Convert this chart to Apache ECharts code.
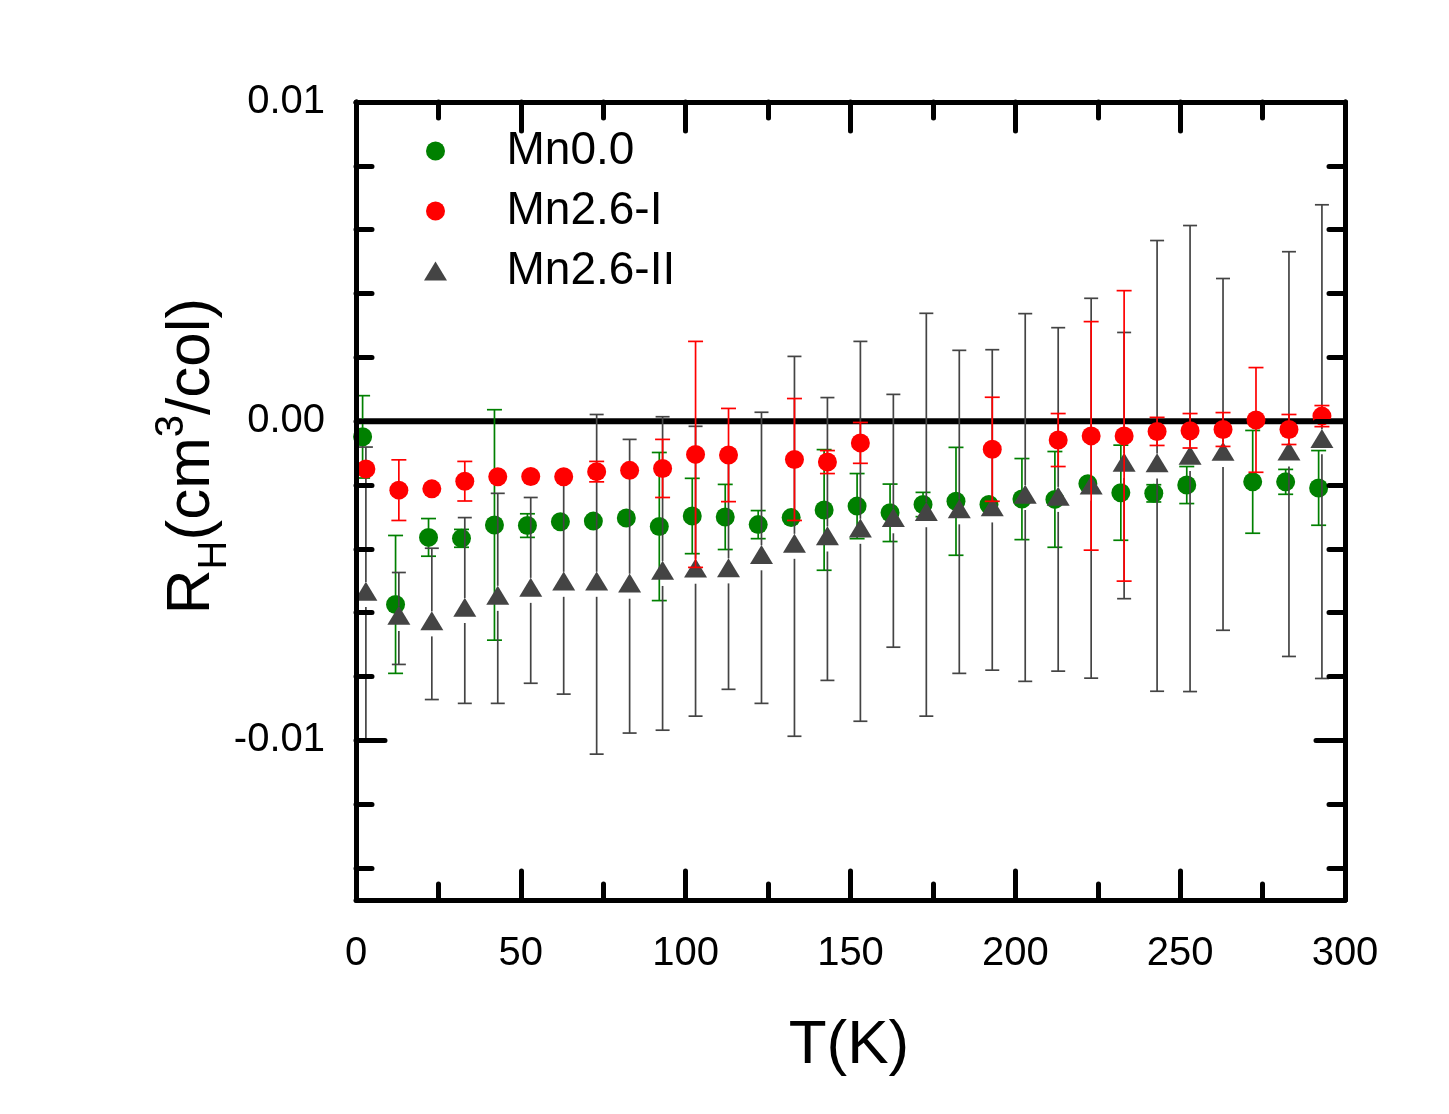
<!DOCTYPE html>
<html>
<head>
<meta charset="utf-8">
<script src="https://cdn.jsdelivr.net/npm/echarts/dist/echarts.min.js"></script>
<style>
html,body{margin:0;padding:0;background:#ffffff;}
#chart{width:1449px;height:1114px;}
</style>
</head>
<body>
<div id="chart"></div>
<script>
// ---- DATA (R_H values and errors in units of 1e-3 cm^3/C) ----
const tMn00 = [2,12,22,32,42,52,62,72,82,92,102,112,122,132,142,152,162,172,182,192,202,212,222,232,242,252,262,272,282,292];
const rhMn00 = [-0.49,-5.74,-3.64,-3.67,-3.25,-3.27,-3.15,-3.13,-3.03,-3.30,-2.97,-3.00,-3.24,-3.02,-2.78,-2.66,-2.87,-2.61,-2.51,-2.61,-2.44,-2.45,-1.96,-2.24,-2.26,-2.00,null,-1.90,-1.90,-2.09];
const errMn00 = [1.29,2.16,0.59,0.28,3.61,0.37,0,0,0,2.32,1.18,1.02,0.44,0,1.89,1.02,0.90,0.38,1.69,0.15,1.27,1.50,0.10,1.49,0.27,0.58,0,1.61,0.39,1.17];

const tMn26I = [3,13,23,33,43,53,63,73,83,93,103,113,123,133,143,153,163,173,183,193,203,213,223,233,243,253,263,273,283,293];
const rhMn26I = [-1.50,-2.16,-2.12,-1.88,-1.74,-1.73,-1.74,-1.58,-1.54,-1.48,-1.04,-1.06,null,-1.20,-1.28,-0.68,null,null,null,-0.88,null,-0.59,-0.46,-0.46,-0.32,-0.30,-0.26,0.04,-0.26,0.16];
const errMn26I = [0,0.95,0,0.62,0,0,0,0.32,0,0.91,3.54,1.46,0,1.91,0.36,0.64,0,0,0,1.63,0,0.83,3.58,4.55,0.44,0.54,0.53,1.64,0.47,0.33];

const tMn26II = [3,13,23,33,43,53,63,73,83,93,103,113,123,133,143,153,163,173,183,193,203,213,223,233,243,253,263,273,283,293];
const rhMn26II = [-5.43,-6.18,-6.35,-5.93,-5.55,-5.30,-5.11,-5.11,-5.17,-4.77,-4.70,-4.69,-4.28,-3.92,-3.69,-3.45,-3.12,-2.93,-2.84,-2.78,-2.39,-2.45,-2.10,-1.39,-1.40,-1.17,-1.04,null,-1.03,-0.64];
const errMn26II = [4.62,1.44,2.37,2.91,3.29,2.91,3.44,5.32,4.60,4.91,4.54,3.71,4.56,5.95,4.43,5.95,3.96,6.31,5.06,5.02,5.76,5.38,5.95,4.17,7.06,7.30,5.51,0,6.34,7.42];

const seriesNames = ['Mn0.0','Mn2.6-I','Mn2.6-II'];
const xTickLabels = ['0','50','100','150','200','250','300'];
const yTickValues = [-10, 0, 10];
const yTickLabels = ['-0.01','0.00','0.01'];
const yMinorValues = [-14,-12,-8,-6,-4,-2,2,4,6,8];
const zeroLine = [[0,0],[300,0]];

// ---- CHART ----
const FONT = "'Liberation Sans', Arial, sans-serif";
const chart = echarts.init(document.getElementById('chart'), null, {renderer:'canvas'});

function pts(ts, vals){
  const out=[]; ts.forEach((t,i)=>{ if(vals[i]!==null) out.push([t, vals[i]]); }); return out;
}
function errData(ts, vals, errs){
  const out=[]; ts.forEach((t,i)=>{ if(vals[i]!==null && errs[i]>0) out.push([t, vals[i], errs[i]]); }); return out;
}
function errSeries(ts, vals, errs, color, gapUp, gapDown, capW, z){
  return {
    type:'custom', silent:true, z:z, animation:false,
    xAxisIndex:0, yAxisIndex:0,
    data: errData(ts, vals, errs),
    encode:{x:0, y:1},
    renderItem: function(params, api){
      const x=api.value(0), v=api.value(1), e=api.value(2);
      const c=api.coord([x,v]), p1=api.coord([x,v+e]), p2=api.coord([x,v-e]);
      const st={stroke:color, lineWidth:1.7};
      const ch=[];
      if (p1[1] < c[1]-gapUp) ch.push({type:'line', shape:{x1:c[0],y1:p1[1],x2:c[0],y2:c[1]-gapUp}, style:st});
      if (p2[1] > c[1]+gapDown) ch.push({type:'line', shape:{x1:c[0],y1:c[1]+gapDown,x2:c[0],y2:p2[1]}, style:st});
      ch.push({type:'line', shape:{x1:c[0]-capW/2,y1:p1[1],x2:c[0]+capW/2,y2:p1[1]}, style:st});
      ch.push({type:'line', shape:{x1:c[0]-capW/2,y1:p2[1],x2:c[0]+capW/2,y2:p2[1]}, style:st});
      return {type:'group', children:ch};
    }
  };
}

const GREEN='#008000', RED='#ff0000', GRAY='#444444';
const triPath = 'path://M11.5,0L23,19L0,19Z';

const axisLineStyle = {color:'#000', width:5};
const tickStyle = {color:'#000', width:5, cap:'round'};
const gridRect = {left:356, right:104, top:102, bottom:214, containLabel:false};
const option = {
  backgroundColor:'#ffffff',
  animation:false,
  grid:[Object.assign({}, gridRect), Object.assign({}, gridRect)],
  xAxis:[
    {gridIndex:0, type:'value', position:'bottom', min:0, max:300, interval:50, z:10,
     axisLine:{show:true, onZero:false, lineStyle:axisLineStyle},
     axisTick:{show:true, inside:true, length:29, lineStyle:tickStyle},
     minorTick:{show:true, splitNumber:2, length:16, lineStyle:tickStyle},
     axisLabel:{show:true, margin:34, fontSize:40, fontFamily:FONT, color:'#000',
       formatter:function(v){ return xTickLabels[Math.round(v/50)]; }},
     splitLine:{show:false}},
    {gridIndex:0, type:'value', position:'top', min:0, max:300, interval:50, z:10,
     axisLine:{show:true, onZero:false, lineStyle:axisLineStyle},
     axisTick:{show:true, inside:true, length:29, lineStyle:tickStyle},
     minorTick:{show:true, splitNumber:2, length:16, lineStyle:tickStyle},
     axisLabel:{show:false}, splitLine:{show:false}},
    {gridIndex:1, type:'value', position:'bottom', min:0, max:300, show:false}
  ],
  yAxis:[
    {gridIndex:0, type:'value', position:'left', min:-15, max:10, z:10,
     axisLine:{show:true, onZero:false, lineStyle:axisLineStyle},
     axisTick:{show:true, inside:true, length:29, customValues:yTickValues, lineStyle:tickStyle},
     axisLabel:{show:true, margin:31, fontSize:40, fontFamily:FONT, color:'#000', customValues:yTickValues,
       formatter:function(v){ const i=yTickValues.indexOf(Math.round(v)); return i>=0? yTickLabels[i] : ''; }},
     splitLine:{show:false}},
    {gridIndex:0, type:'value', position:'right', min:-15, max:10, z:10,
     axisLine:{show:true, onZero:false, lineStyle:axisLineStyle},
     axisTick:{show:true, inside:true, length:29, customValues:yTickValues, lineStyle:tickStyle},
     axisLabel:{show:false}, splitLine:{show:false}},
    {gridIndex:1, type:'value', position:'left', min:-15, max:10, z:10,
     axisLine:{show:false, onZero:false},
     axisTick:{show:true, inside:true, length:16, customValues:yMinorValues, lineStyle:tickStyle},
     axisLabel:{show:false}, splitLine:{show:false}},
    {gridIndex:1, type:'value', position:'right', min:-15, max:10, z:10,
     axisLine:{show:false, onZero:false},
     axisTick:{show:true, inside:true, length:16, customValues:yMinorValues, lineStyle:tickStyle},
     axisLabel:{show:false}, splitLine:{show:false}}
  ],
  legend:{
    show:true, orient:'vertical', left:424, top:128, padding:0,
    itemWidth:132, itemHeight:19, itemGap:14, symbolKeepAspect:true,
    selectedMode:false,
    textStyle:{fontSize:46, fontFamily:FONT, color:'#000'},
    data:[
      {name:seriesNames[0], icon:'circle'},
      {name:seriesNames[1], icon:'circle'},
      {name:seriesNames[2], icon:triPath}
    ]
  },
  graphic:[
    {type:'text', x:849, y:1046, z:20,
     style:{text:'T(K)', font:'62px ' + FONT, fill:'#000', align:'center', verticalAlign:'middle'}},
    {type:'text', x:192, y:456, rotation:Math.PI/2, z:20,
     style:{
       text:'{m|R}{sub|H}{m|(cm}{sup|3}{m|/col)}',
       align:'center', verticalAlign:'middle', fill:'#000',
       rich:{
         m:{fontSize:62, fontFamily:FONT, lineHeight:100, verticalAlign:'middle', fill:'#000'},
         sub:{fontSize:40, fontFamily:FONT, lineHeight:40, verticalAlign:'bottom', padding:[0,0,7,0], fill:'#000'},
         sup:{fontSize:40, fontFamily:FONT, lineHeight:40, verticalAlign:'top', padding:[10,0,0,0], fill:'#000'}
       }
     }}
  ],
  series:[
    {type:'line', xAxisIndex:0, yAxisIndex:0, data:zeroLine, symbol:'none', silent:true, z:2, lineStyle:{color:'#000', width:6}},
    errSeries(tMn00, rhMn00, errMn00, GREEN, 9, 9, 15, 3),
    {type:'scatter', name:seriesNames[0], xAxisIndex:0, yAxisIndex:0, data:pts(tMn00, rhMn00), symbol:'circle', symbolSize:19, z:4, silent:true,
     itemStyle:{color:GREEN, opacity:1}},
    errSeries(tMn26II, rhMn26II, errMn26II, GRAY, 12.5, 12.5, 14, 5),
    {type:'scatter', name:seriesNames[2], xAxisIndex:0, yAxisIndex:0, data:pts(tMn26II, rhMn26II), symbol:'triangle', symbolSize:[23,19], symbolOffset:[0,-3.2], z:6, silent:true,
     itemStyle:{color:GRAY, opacity:1}},
    errSeries(tMn26I, rhMn26I, errMn26I, RED, 9, 9, 15, 7),
    {type:'scatter', name:seriesNames[1], xAxisIndex:0, yAxisIndex:0, data:pts(tMn26I, rhMn26I), symbol:'circle', symbolSize:19, z:8, silent:true,
     itemStyle:{color:RED, opacity:1}}
  ]
};
chart.setOption(option);
</script>
</body>
</html>
